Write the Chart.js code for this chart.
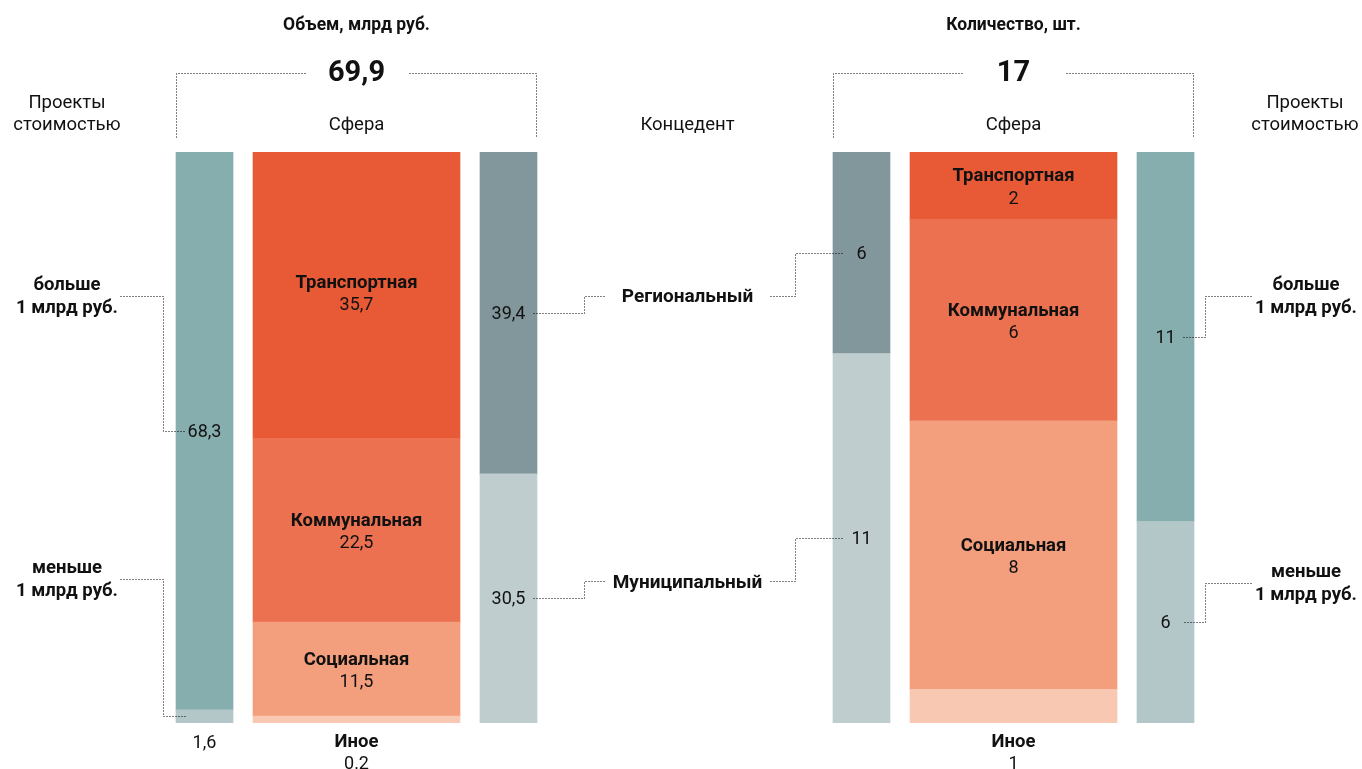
<!DOCTYPE html>
<html>
<head>
<meta charset="utf-8">
<script src="https://cdn.jsdelivr.net/npm/chart.js@4"></script>
<style>
html,body{margin:0;padding:0;background:#fff;}
#wrap{position:relative;width:1362px;height:769px;overflow:hidden;}
#wrap canvas{position:absolute;left:0;top:0;}
</style>
</head>
<body>
<div id="wrap">
  <canvas id="leftChart" width="1362" height="769"></canvas>
  <canvas id="rightChart" width="1362" height="769"></canvas>
</div>
<script>
// ---------- DATA ----------
const sphereCategories = ['Транспортная', 'Коммунальная', 'Социальная', 'Иное'];
const concedentCategories = ['Региональный', 'Муниципальный'];
const costCategories = [['больше', '1 млрд руб.'], ['меньше', '1 млрд руб.']];

const volumeTitle = 'Объем, млрд руб.';
const volumeTotalText = '69,9';
const volumeSphere = [35.7, 22.5, 11.5, 0.2];
const volumeSphereText = ['35,7', '22,5', '11,5', '0.2'];
const volumeCost = [68.3, 1.6];
const volumeCostText = ['68,3', '1,6'];
const volumeConcedent = [39.4, 30.5];
const volumeConcedentText = ['39,4', '30,5'];

const countTitle = 'Количество, шт.';
const countTotalText = '17';
const countSphere = [2, 6, 8, 1];
const countSphereText = ['2', '6', '8', '1'];
const countConcedent = [6, 11];
const countConcedentText = ['6', '11'];
const countCost = [11, 6];
const countCostText = ['11', '6'];

// ---------- STYLE ----------
const sphereColors = ['#E85A36', '#EC7150', '#F39E7D', '#F9C8B2'];
const costColors = ['#87AEAF', '#B3C7C9'];
const concedentColors = ['#82979C', '#C0CDCF'];
const FONT = 'Roboto, "Noto Sans", sans-serif';
const TXT = '#111';
const DOT = '#000';
const NAME_SIZE = 18.5, VALUE_SIZE = 18, HEAD_SIZE = 18.5, TITLE_SIZE = 17.5, TOTAL_SIZE = 29;
const TY = 1.5; // vertical text nudge

function drawText(ctx, str, x, y, size, weight, align) {
  ctx.save();
  ctx.font = (weight || 400) + ' ' + size + 'px ' + FONT;
  ctx.fillStyle = TXT;
  ctx.textAlign = align || 'center';
  ctx.textBaseline = 'middle';
  ctx.fillText(str, x, y + TY);
  ctx.restore();
}
function dotted(ctx, pts) {
  ctx.save();
  ctx.strokeStyle = DOT; ctx.lineWidth = 1; ctx.setLineDash([1, 2]);
  ctx.beginPath();
  pts.forEach((p, i) => {
    const x = Math.round(p[0]) + 0.5, y = Math.round(p[1]) + 0.5;
    if (i) ctx.lineTo(x, y); else ctx.moveTo(x, y);
  });
  ctx.stroke();
  ctx.restore();
}

function buildChart(canvasId, columns, total, padding, extraDraw) {
  const datasets = [], info = [];
  columns.forEach((col, c) => {
    for (let k = col.values.length - 1; k >= 0; k--) {
      const data = columns.map(() => null);
      data[c] = col.values[k];
      datasets.push({
        data,
        backgroundColor: col.colors[k],
        barThickness: col.thick,
        borderWidth: 0,
        minBarLength: 7,
        stack: 's'
      });
      info.push({ c, k, col });
    }
  });

  const labelPlugin = {
    id: 'segLabels',
    afterDatasetsDraw(chart) {
      const ctx = chart.ctx;
      const geo = {};
      info.forEach((inf, i) => {
        const el = chart.getDatasetMeta(i).data[inf.c];
        if (!el) return;
        const p = el.getProps(['x', 'y', 'base', 'width'], true);
        const top = Math.min(p.y, p.base), bottom = Math.max(p.y, p.base);
        const g = { x: p.x, left: p.x - p.width / 2, right: p.x + p.width / 2, top, bottom, cy: (top + bottom) / 2 };
        (geo[inf.col.key] = geo[inf.col.key] || [])[inf.k] = g;
      });
      chart.$geo = geo;
      columns.forEach(col => {
        geo[col.key].forEach((g, k) => {
          if (col.key === 'sphere') {
            if (k === col.values.length - 1) {
              drawText(ctx, col.names[k], g.x, g.bottom + 18, NAME_SIZE, 700);
              drawText(ctx, col.texts[k], g.x, g.bottom + 40, VALUE_SIZE, 400);
            } else {
              drawText(ctx, col.names[k], g.x, g.cy - 10.5, NAME_SIZE, 700);
              drawText(ctx, col.texts[k], g.x, g.cy + 12, VALUE_SIZE, 400);
            }
          } else {
            if (g.bottom - g.top < 20) drawText(ctx, col.texts[k], g.x, g.bottom + 19, VALUE_SIZE, 400);
            else drawText(ctx, col.texts[k], g.x, g.cy, VALUE_SIZE, 400);
          }
        });
      });
    },
    afterDraw(chart) { extraDraw(chart, chart.$geo, chart.ctx); }
  };

  return new Chart(document.getElementById(canvasId), {
    type: 'bar',
    data: { labels: columns.map(c => c.key), datasets },
    options: {
      responsive: false,
      animation: false,
      devicePixelRatio: 1,
      layout: { padding },
      plugins: { legend: { display: false }, tooltip: { enabled: false } },
      scales: {
        x: { display: false, stacked: true, offset: true },
        y: { display: false, stacked: true, min: 0, max: total }
      }
    },
    plugins: [labelPlugin]
  });
}

const sum = a => a.reduce((s, v) => s + v, 0);

// ---------- LEFT: volume ----------
const leftColumns = [
  { key: 'cost', values: volumeCost, texts: volumeCostText, colors: costColors, thick: 57 },
  { key: 'sphere', values: volumeSphere, texts: volumeSphereText, names: sphereCategories, colors: sphereColors, thick: 207 },
  { key: 'conc', values: volumeConcedent, texts: volumeConcedentText, colors: concedentColors, thick: 57 }
];
const leftCostAnchors = [296, 579];

const leftChart = buildChart('leftChart', leftColumns, sum(volumeSphere),
  { left: 128.5, right: 777.5, top: 152, bottom: 46 },
  (chart, geo, ctx) => {
    const sp = geo.sphere[0], cost = geo.cost[0], conc = geo.conc[0];
    drawText(ctx, volumeTitle, sp.x, 24, TITLE_SIZE, 700);
    drawText(ctx, volumeTotalText, sp.x, 72, TOTAL_SIZE, 700);
    drawText(ctx, 'Сфера', sp.x, 124, HEAD_SIZE, 400);
    dotted(ctx, [[cost.left, 137], [cost.left, 73], [sp.x - 52, 73]]);
    dotted(ctx, [[sp.x + 52, 73], [conc.right - 1, 73], [conc.right - 1, 137]]);
    drawText(ctx, 'Проекты', cost.left - 109, 102, HEAD_SIZE, 400);
    drawText(ctx, 'стоимостью', cost.left - 109, 124, HEAD_SIZE, 400);
    geo.cost.forEach((g, k) => {
      const ay = leftCostAnchors[k];
      drawText(ctx, costCategories[k][0], cost.left - 109, ay - 12, NAME_SIZE, 700);
      drawText(ctx, costCategories[k][1], cost.left - 109, ay + 11, NAME_SIZE, 700);
      dotted(ctx, [[cost.left - 56, ay], [cost.left - 13, ay], [cost.left - 13, g.cy], [cost.left + 10, g.cy]]);
    });
  });

// ---------- RIGHT: count ----------
const rightColumns = [
  { key: 'conc', values: countConcedent, texts: countConcedentText, colors: concedentColors, thick: 57 },
  { key: 'sphere', values: countSphere, texts: countSphereText, names: sphereCategories, colors: sphereColors, thick: 207 },
  { key: 'cost', values: countCost, texts: countCostText, colors: costColors, thick: 57 }
];
const rightCostAnchors = [296, 583];

const rightChart = buildChart('rightChart', rightColumns, sum(countSphere),
  { left: 785.5, right: 120.5, top: 152, bottom: 46 },
  (chart, geo, ctx) => {
    const sp = geo.sphere[0], cost = geo.cost[0], conc = geo.conc[0];
    drawText(ctx, countTitle, sp.x, 24, TITLE_SIZE, 700);
    drawText(ctx, countTotalText, sp.x, 72, TOTAL_SIZE, 700);
    drawText(ctx, 'Сфера', sp.x, 124, HEAD_SIZE, 400);
    dotted(ctx, [[conc.left, 137], [conc.left, 73], [sp.x - 52, 73]]);
    dotted(ctx, [[sp.x + 52, 73], [cost.right - 1, 73], [cost.right - 1, 137]]);
    drawText(ctx, 'Проекты', cost.right + 111, 102, HEAD_SIZE, 400);
    drawText(ctx, 'стоимостью', cost.right + 111, 124, HEAD_SIZE, 400);
    geo.cost.forEach((g, k) => {
      const ay = rightCostAnchors[k];
      drawText(ctx, costCategories[k][0], cost.right + 112, ay - 12, NAME_SIZE, 700);
      drawText(ctx, costCategories[k][1], cost.right + 112, ay + 11, NAME_SIZE, 700);
      dotted(ctx, [[cost.right + 57, ay], [cost.right + 11, ay], [cost.right + 11, g.cy], [cost.right - 12, g.cy]]);
    });
    // middle: concedent
    const lgeo = leftChart.$geo;
    if (!lgeo) return;
    const lc = lgeo.conc;
    const midX = (lc[0].right + 68 + conc.left - 63) / 2;
    drawText(ctx, 'Концедент', midX, 124, HEAD_SIZE, 400);
    lc.forEach((lv, k) => {
      const rv = geo.conc[k];
      const midY = lv.cy - 17;
      drawText(ctx, concedentCategories[k], midX, midY, 19, 700);
      dotted(ctx, [[lv.right - 4, lv.cy], [lv.right + 47, lv.cy], [lv.right + 47, midY], [lv.right + 68, midY]]);
      dotted(ctx, [[rv.left - 63, midY], [rv.left - 38, midY], [rv.left - 38, rv.cy], [rv.left + 9, rv.cy]]);
    });
  });
</script>
</body>
</html>
